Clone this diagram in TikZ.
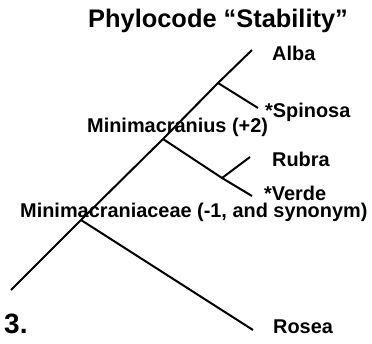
\documentclass[tikz,border=0pt]{standalone}
\usepackage{fontspec}
\setmainfont{Liberation Sans}
\begin{document}
\begin{tikzpicture}[x=1pt,y=-1pt,
  branch/.style={line width=2pt,black},
  lbl/.style={inner sep=0pt,anchor=base west,font=\fontsize{19.9}{22}\selectfont\bfseries},
  ttl/.style={inner sep=0pt,anchor=base west,font=\fontsize{25.4}{28}\selectfont\bfseries},
  big/.style={inner sep=0pt,anchor=base west,font=\fontsize{28}{30}\selectfont\bfseries}]
\useasboundingbox (0,0) rectangle (372,343);
% tree points
\coordinate (root) at (11,290);
\coordinate (n1) at (81,220);
\coordinate (n2) at (163,139);
\coordinate (n3) at (218,83);
\coordinate (n4) at (222,178);
\coordinate (tAlba) at (252,50);
\coordinate (tSpin) at (258,108);
\coordinate (tRubra) at (250,157);
\coordinate (tVerde) at (252,196);
\coordinate (tRosea) at (253,330);
% branches
\draw[branch] (root) -- (n1) -- (n2) -- (n3) -- (tAlba);
\draw[branch] (n3) -- (tSpin);
\draw[branch] (n2) -- (n4) -- (tVerde);
\draw[branch] (n4) -- (tRubra);
\draw[branch] (n1) -- (tRosea);
% labels
\node[ttl] (title) at (88,27) {Phylocode “Stability”};
\node[lbl] (alba) at (272,60) {Alba};
\node[lbl] (spin) at (265,117) {*Spinosa};
\node[lbl] (minic) at (87,132) {Minimacranius (+2)};
\node[lbl] (rubra) at (272,166) {Rubra};
\node[lbl] (verde) at (264,200) {*Verde};
\node[lbl] (minia) at (20,217) {Minimacraniaceae (-1, and synonym)};
\node[big] (three) at (4,333) {3.};
\node[lbl] (rosea) at (273,333) {Rosea};
\end{tikzpicture}
\end{document}
